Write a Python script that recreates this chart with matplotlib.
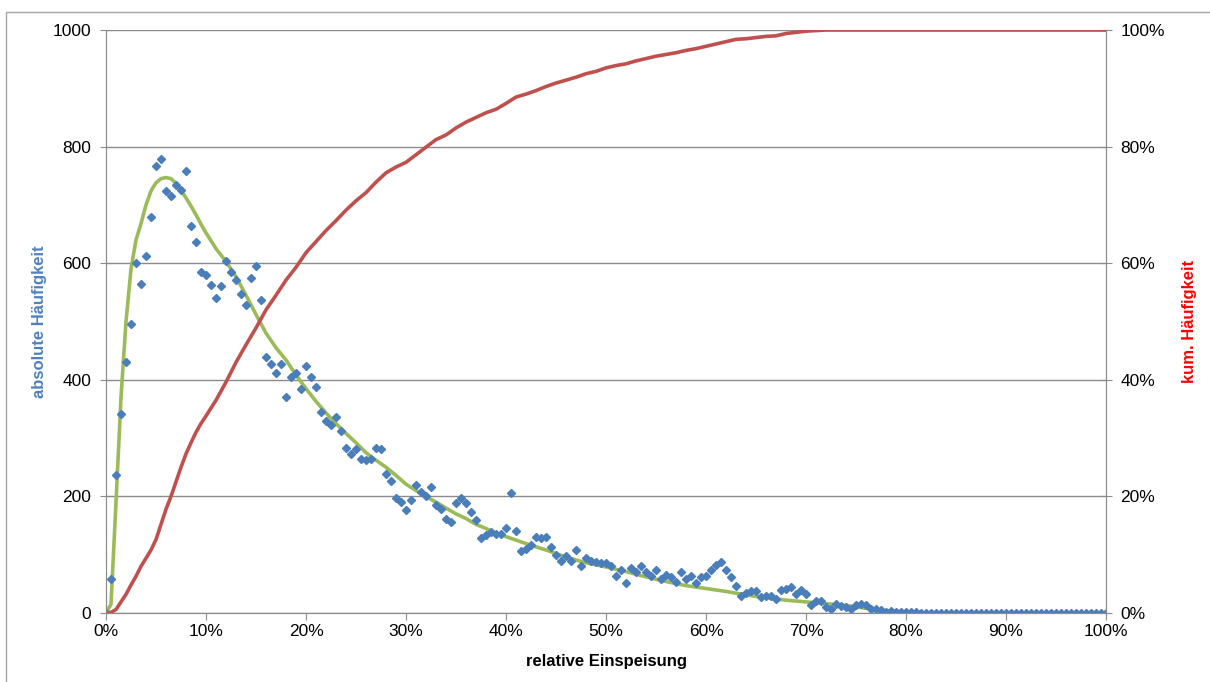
import numpy as np
import matplotlib
matplotlib.use("Agg")
import matplotlib.pyplot as plt
from matplotlib.patches import Rectangle

plt.rcParams["font.family"] = ["Liberation Sans", "DejaVu Sans"]

# -----------------------
# Data
# -----------------------

# relative Einspeisung in %, steps of 0.5 %
x_points = np.arange(0, 100.5, 0.5)

abs_freq = [
    0, 58, 237, 341, 431, 496, 600, 564, 612, 679,
    767, 779, 723, 715, 734, 725, 759, 663, 636, 585,
    579, 563, 540, 561, 604, 585, 571, 548, 529, 575,
    596, 537, 439, 427, 412, 427, 371, 404, 412, 385,
    423, 404, 387, 345, 329, 322, 337, 312, 283, 272,
    281, 264, 262, 264, 283, 281, 239, 226, 198, 191,
    177, 193, 220, 208, 200, 216, 185, 178, 162, 156,
    189, 197, 189, 173, 160, 129, 133, 139, 135, 135,
    145, 206, 141, 106, 110, 116, 131, 129, 131, 114,
    99, 89, 98, 89, 108, 81, 95, 89, 87, 85,
    85, 81, 64, 74, 51, 77, 70, 81, 70, 64,
    73, 59, 66, 62, 53, 70, 59, 63, 51, 62,
    63, 74, 82, 87, 74, 62, 47, 30, 34, 37,
    37, 28, 30, 30, 24, 39, 41, 45, 33, 39,
    33, 14, 20, 20, 11, 7, 15, 12, 10, 7,
    14, 16, 14, 7, 7, 5, 2, 3, 2, 2,
    1, 1, 1, 0, 0, 0, 0, 0, 0, 0,
    0, 0, 0, 0, 0, 0, 0, 0, 0, 0,
    0, 0, 0, 0, 0, 0, 0, 0, 0, 0,
    0, 0, 0, 0, 0, 0, 0, 0, 0, 0,
    0,
]

# smoothed curve (green)
fit_x = [0, 0.5, 1, 1.5, 2, 2.5, 3, 3.5, 4, 4.5, 5, 5.5, 6, 6.5, 7, 7.5, 8,
         8.5, 9, 9.5, 10, 11, 12, 13, 14, 15, 16, 17, 18, 19, 20, 21, 22, 23,
         24, 25, 26, 27, 28, 29, 30, 31, 32, 33, 34, 35, 36, 37, 38, 39, 40,
         42, 44, 46, 48, 50, 52, 54, 56, 58, 60, 62, 64, 66, 68, 70, 72, 74,
         76, 78, 80, 82, 84, 90, 100]
fit_y = [0, 15, 190, 370, 500, 590, 640, 668, 700, 724, 738, 745, 747, 745,
         737, 725, 712, 698, 683, 667, 652, 625, 603, 577, 545, 512, 480, 455,
         434, 408, 385, 363, 343, 325, 308, 292, 275, 262, 250, 236, 221, 210,
         200, 190, 180, 170, 162, 152, 145, 137, 131, 119, 108, 96, 86, 79, 71,
         62, 54, 47, 42, 37, 31, 26, 22, 19, 16, 13, 8, 4, 2, 0, 0, 0, 0]

# cumulative frequency in % (red)
cum_x = [0, 0.5, 1, 1.5, 2, 2.5, 3, 3.5, 4, 4.5, 5, 5.5, 6, 6.5, 7, 7.5, 8,
         8.5, 9, 9.5, 10, 11, 12, 13, 14, 15, 16, 17, 18, 19, 20, 21, 22, 23,
         24, 25, 26, 27, 28, 29, 30, 31, 32, 33, 34, 35, 36, 37, 38, 39, 40,
         41, 42, 43, 44, 45, 46, 47, 48, 49, 50, 51, 52, 53, 54, 55, 56, 57,
         58, 59, 60, 61, 62, 63, 64, 65, 66, 67, 68, 69, 70, 71, 72, 80, 90,
         100]
cum_y = [0, 0.1, 0.6, 1.9, 3.2, 4.8, 6.3, 8.0, 9.4, 10.8, 12.6, 15.2, 17.8,
         20.0, 22.5, 25.0, 27.3, 29.2, 31.0, 32.5, 33.8, 36.5, 39.6, 43.0,
         46.0, 48.9, 52.0, 54.5, 57.1, 59.3, 61.8, 63.7, 65.6, 67.3, 69.1,
         70.7, 72.1, 73.9, 75.5, 76.5, 77.3, 78.6, 79.9, 81.2, 82.0, 83.2,
         84.2, 85.0, 85.8, 86.4, 87.4, 88.5, 89.0, 89.6, 90.3, 90.9, 91.4,
         91.9, 92.5, 92.9, 93.5, 93.9, 94.2, 94.7, 95.1, 95.5, 95.8, 96.1,
         96.5, 96.8, 97.2, 97.6, 98.0, 98.4, 98.5, 98.7, 98.9, 99.0, 99.4,
         99.6, 99.8, 99.9, 100, 100, 100, 100]

x_ticks = [0, 10, 20, 30, 40, 50, 60, 70, 80, 90, 100]
x_tick_labels = ["0%", "10%", "20%", "30%", "40%", "50%", "60%", "70%",
                 "80%", "90%", "100%"]
y_ticks = [0, 200, 400, 600, 800, 1000]
y2_ticks = [0, 20, 40, 60, 80, 100]
y2_tick_labels = ["0%", "20%", "40%", "60%", "80%", "100%"]

# -----------------------
# Plot
# -----------------------

grey = "#8c8c8c"

fig = plt.figure(figsize=(12.1, 6.82), dpi=100)
fig.patches.append(Rectangle((6 / 1210, -0.05), 1.1, 1 - 12 / 682 + 0.05,
                             transform=fig.transFigure, fill=False,
                             edgecolor="#a6a6a6", linewidth=1))

ax = fig.add_axes([106 / 1210, 69 / 682, 1000 / 1210, 583 / 682])
ax2 = ax.twinx()

ax.plot(fit_x, fit_y, color="#9bbb59", linewidth=2.6, zorder=2)
ax.plot(x_points, abs_freq, linestyle="none", marker="D", markersize=3.8,
        color="#4a7ebb", zorder=3)
ax2.plot(cum_x, cum_y, color="#c0504d", linewidth=2.6, zorder=2)

ax.set_xlim(0, 100)
ax.set_ylim(0, 1000)
ax2.set_ylim(0, 100)

ax.set_xticks(x_ticks)
ax.set_xticklabels(x_tick_labels)
ax.set_yticks(y_ticks)
ax2.set_yticks(y2_ticks)
ax2.set_yticklabels(y2_tick_labels)

ax.yaxis.grid(True, color=grey, linewidth=1)
ax.set_axisbelow(True)

for a in (ax, ax2):
    for s in a.spines.values():
        s.set_color(grey)
    a.spines["top"].set_visible(False)
    a.tick_params(labelsize=12.5, colors="black")

ax.tick_params(axis="x", direction="out", length=5, color=grey, pad=3)
ax.tick_params(axis="y", direction="inout", length=9, color=grey, pad=6)
ax2.tick_params(axis="y", direction="inout", length=9, color=grey, pad=6)

ax.set_xlabel("relative Einspeisung", fontsize=12, fontweight="bold",
              labelpad=11)
ax.set_ylabel("absolute Häufigkeit", fontsize=12, fontweight="bold",
              color="#4f81bd", labelpad=4)
ax2.set_ylabel("kum. Häufigkeit", fontsize=12, fontweight="bold",
               color="#ff0000", labelpad=12)

fig.savefig("out.png", dpi=100)
